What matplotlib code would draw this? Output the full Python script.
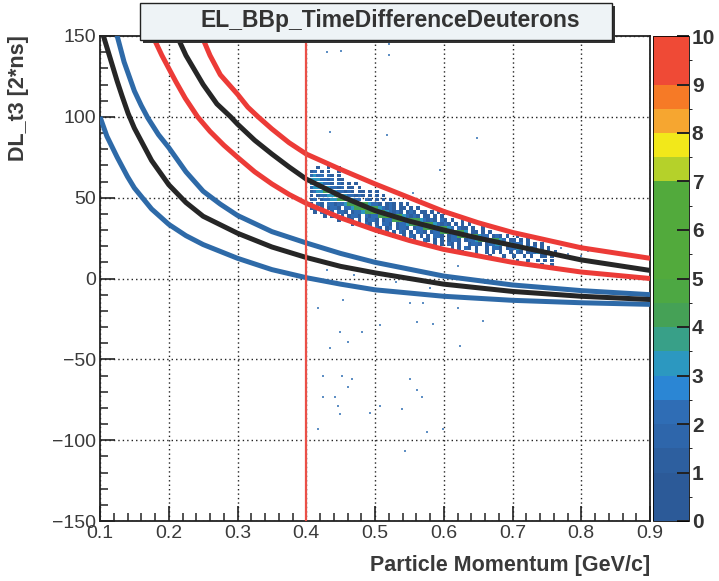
import numpy as np
import matplotlib
matplotlib.use("Agg")
import matplotlib.pyplot as plt
from matplotlib.colors import ListedColormap, BoundaryNorm
from matplotlib.cm import ScalarMappable
from matplotlib.patches import Rectangle
from matplotlib.ticker import MultipleLocator

plt.rcParams['font.family'] = ['Liberation Sans', 'DejaVu Sans']

# ---------------- data ----------------
title = "EL_BBp_TimeDifferenceDeuterons"
xlabel = "Particle Momentum [GeV/c]"
ylabel = "DL_t3 [2*ns]"

# curves (momentum, DL_t3)
b1_p = [0.1, 0.11, 0.125, 0.14, 0.15, 0.175, 0.2, 0.225, 0.25, 0.3, 0.35, 0.4, 0.45, 0.5, 0.6, 0.7, 0.8, 0.9]
b1_t = [100, 88, 75, 63, 56, 43, 33.5, 26.5, 21, 12.5, 5.5, 0.5, -3.5, -7, -11, -13.5, -15, -16]

k1_p = [0.102, 0.105, 0.115, 0.125, 0.132, 0.141, 0.15, 0.175, 0.2, 0.225, 0.25, 0.3, 0.35, 0.4, 0.45, 0.5, 0.6, 0.7, 0.8, 0.9]
k1_t = [156, 150, 136, 122, 113, 102, 93, 73, 58, 47, 38.5, 28, 19.5, 13, 7.5, 3.5, -3.5, -8, -11, -13]

b2_p = [0.122, 0.125, 0.135, 0.15, 0.16, 0.17, 0.185, 0.2, 0.225, 0.25, 0.275, 0.3, 0.35, 0.4, 0.45, 0.5, 0.6, 0.7, 0.8, 0.9]
b2_t = [155, 150, 134, 116, 107, 99, 89, 81, 66, 54, 46, 39, 29, 22, 15.5, 10, 1.5, -4, -7.5, -10]

r1_p = [0.176, 0.18, 0.19, 0.2, 0.21, 0.224, 0.242, 0.26, 0.28, 0.3, 0.325, 0.35, 0.375, 0.4, 0.45, 0.5, 0.55, 0.6, 0.7, 0.8, 0.9]
r1_t = [152, 147, 138, 130, 122, 111.5, 100, 91, 82.5, 75, 66, 58.5, 52, 46.5, 37.5, 30, 23.5, 18, 10, 4, 0]

k2_p = [0.209, 0.212, 0.225, 0.25, 0.27, 0.29, 0.3, 0.325, 0.35, 0.375, 0.4, 0.45, 0.5, 0.55, 0.6, 0.65, 0.7, 0.8, 0.9]
k2_t = [154, 150, 138, 120, 108, 100, 95.5, 85.5, 77, 69, 61.5, 51, 42, 35.5, 30, 25, 20.5, 11.5, 5]

r2_p = [0.244, 0.248, 0.26, 0.275, 0.3, 0.315, 0.33, 0.35, 0.375, 0.4, 0.45, 0.5, 0.55, 0.6, 0.65, 0.7, 0.8, 0.9]
r2_t = [154, 150, 138, 126, 114, 106, 100, 92.5, 84, 77, 67.5, 58.5, 50, 41.5, 34.5, 28.5, 19, 12.5]

cut_p = 0.4

# histogram band: (row centre in DL_t3, first column index, counts per 0.005 GeV/c column; '.' = empty)
hist_x0, hist_dx, hist_dy = 0.405, 0.005, 2.5
band_rows = [
    (68.75, 2, "1..1..1"),
    (66.25, 0, "12.1.1..1"),
    (63.75, 0, "2322.21.1"),
    (61.25, 0, "3332212.11"),
    (58.75, 0, "3433221.21.1.1"),
    (56.25, 0, "2334432212.11.1"),
    (53.75, 0, "1233444322121.11.1.1"),
    (51.25, 0, "1.12233443322121.1.1.1"),
    (48.75, 0, "12.122334543322.21.1.1.1"),
    (46.25, 0, "1.21.2212234454443221.121.1.1"),
    (43.75, 0, "12.1.1221.223445544432121.11.1.1"),
    (41.25, 1, "1.21.1.221.122344554432121.121.11.1.1"),
    (38.75, 4, "1.12.1.1221.2122445554432121.11.1.1"),
    (36.25, 8, "1..21.1.1221.1224455544432121.21.1..1"),
    (33.75, 12, "1.1.21.1.221.1223445554432121.1.1.1"),
    (31.25, 16, ".1.21.12.1221.122445554432.211.1..1"),
    (28.75, 20, "1.1.1.21.1.221.12244554443.11.1.1"),
    (26.25, 24, "1..1.21.1.1.221.122445544322.121.1..1"),
    (23.75, 28, "1.1..21.1.1.1221.122344544432.11.1.1"),
    (21.25, 33, "1..1.1.21.1..1221.12233443222.1.1.1."),
    (18.75, 37, "1...1.1.21.1..1.221.122334322.1.1"),
    (16.25, 44, "1...1..1.1.1..1.21.1223321.1."),
    (13.75, 52, "1...1..1..1.1..11.1."),
    (11.25, 60, "1..1..1.1.1."),
    (8.75, 66, ".1..1."),
]

# isolated single entries
dots_p = [0.417, 0.453, 0.435, 0.449, 0.461, 0.481, 0.424, 0.452, 0.467, 0.461, 0.424, 0.442,
          0.446, 0.449, 0.507, 0.539, 0.561, 0.568, 0.551, 0.507, 0.561, 0.584, 0.551, 0.570,
          0.624, 0.657, 0.621, 0.576, 0.544, 0.599, 0.493, 0.417, 0.43, 0.45, 0.52, 0.52,
          0.435, 0.517, 0.648, 0.595, 0.555, 0.78, 0.79, 0.80, 0.82, 0.77, 0.81,
          0.43, 0.47, 0.53, 0.58, 0.62, 0.66]
dots_t = [-18.5, -13.6, -43, -33, -39, -33, -60, -60, -62, -67, -73, -73,
          -79, -84, -79, -81, -69, -73, -62, -29, -27, -28, -15, -15,
          -42, -26, -18, -95, -107, -93, -83, -93, 140, 141, 138, 145,
          90.6, 88.8, 87, 67, 53, 15, 12, 14, 10, 19, 17,
          5, 2, -2, -6, 8, -3]

palette = ['#2c5a98', '#2c5a98', '#2d5f9f', '#2e66ab', '#2f6db5', '#2b86d4', '#2c98c0',
           '#38a088', '#45a156', '#4da843', '#52aa3c', '#52aa3c', '#52aa3c', '#52aa3c',
           '#b5d12a', '#f2e81a', '#f6a630', '#f67a26', '#ef4a36', '#ef4a36']
levels = np.arange(0, 10.5, 0.5)

# ---------------- figure ----------------
fig = plt.figure(figsize=(7.19, 5.81), dpi=100)
ax = fig.add_axes([100/719, 1-521/581, 550/719, 485/581])
cax = fig.add_axes([653/719, 1-521/581, 36/719, 485/581])

cmap = ListedColormap(palette)
norm = BoundaryNorm(levels, cmap.N)

# cell centres and counts of the filled histogram bins
cell_p, cell_t, cell_n = [], [], []
for yc, i0, pat in band_rows:
    for k, ch in enumerate(pat):
        if ch != '.':
            cell_p.append(hist_x0 + hist_dx * (i0 + k + 0.5))
            cell_t.append(yc)
            cell_n.append(int(ch))
ax.scatter(cell_p, cell_t, c=cell_n, cmap=cmap, norm=norm, s=6.8, marker='s',
           linewidths=0, zorder=2)
ax.scatter(dots_p, dots_t, s=4, marker='s', color='#5f8fc4', linewidths=0, zorder=2)

red, black, blue = '#ec3b37', '#262626', '#2e6aa8'
lw = 3.6
ax.plot(b1_p, b1_t, color=blue, lw=lw, zorder=3, solid_capstyle='butt')
ax.plot(b2_p, b2_t, color=blue, lw=lw, zorder=3, solid_capstyle='butt')
ax.plot(k1_p, k1_t, color=black, lw=lw, zorder=3, solid_capstyle='butt')
ax.plot(r1_p, r1_t, color=red, lw=lw, zorder=3, solid_capstyle='butt')
ax.plot(k2_p, k2_t, color=black, lw=lw, zorder=3, solid_capstyle='butt')
ax.plot(r2_p, r2_t, color=red, lw=lw, zorder=3, solid_capstyle='butt')
ax.axvline(cut_p, color='#ea5048', lw=1.6, zorder=3)

ax.set_xlim(0.1, 0.9)
ax.set_ylim(-150, 150)
ax.xaxis.set_major_locator(MultipleLocator(0.1))
ax.xaxis.set_minor_locator(MultipleLocator(0.02))
ax.yaxis.set_major_locator(MultipleLocator(50))
ax.yaxis.set_minor_locator(MultipleLocator(10))
ax.grid(True, which='major', color='#222222', linestyle=(0, (1, 2.2)), linewidth=1.0, zorder=1)
ax.tick_params(which='both', direction='in', top=False, right=False, colors='#222222',
               labelcolor='#3a3a3a', labelsize=14)
ax.tick_params(which='major', length=11, width=1.2, pad=3)
ax.tick_params(which='minor', length=6, width=1.1)
for s in ax.spines.values():
    s.set_linewidth(1.3)
    s.set_color('#222222')

sm = ScalarMappable(norm=norm, cmap=cmap)
cb = fig.colorbar(sm, cax=cax, ticks=range(11))
cb.outline.set_linewidth(0.6)
cax.tick_params(direction='in', length=9, width=1.4, colors='#222222', labelsize=15, pad=2)
for t in cax.get_yticklabels():
    t.set_fontweight('bold')
    t.set_color('#333333')

fig.text(19/719, 1-35/581, ylabel, rotation=90, ha='center', va='top',
         fontweight='bold', fontsize=15.5, color='#3a3a3a')
fig.text(650/719, 1-566/581, xlabel, ha='right', va='center',
         fontweight='bold', fontsize=15.5, color='#3a3a3a')

# title box with shadow
shadow = Rectangle((143/719, 1-43/581), 472/719, 37/581, transform=fig.transFigure,
                   facecolor='#333333', edgecolor='none', zorder=10)
box = Rectangle((140/719, 1-40/581), 472/719, 37/581, transform=fig.transFigure,
                facecolor='#eef3f6', edgecolor='#222222', linewidth=1.0, zorder=11)
fig.add_artist(shadow)
fig.add_artist(box)
fig.text(390/719, 1-21/581, title, ha='center', va='center', fontweight='bold',
         fontsize=16.5, color='#333333', zorder=12)

fig.savefig('out.png', dpi=100, facecolor='white')
